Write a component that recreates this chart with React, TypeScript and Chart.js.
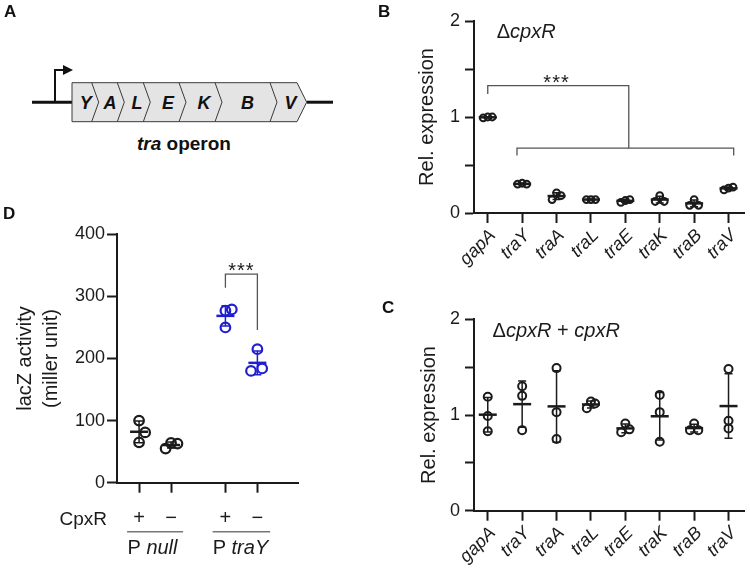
import React, { useEffect, useRef } from 'react';
import { Chart, registerables } from 'chart.js';

Chart.register(...registerables);

const FONT = "'Liberation Sans', Arial, Helvetica, sans-serif";
const INK = '#1b1b1b';
const BLUE = '#1f1fd0';
const GREY = '#555555';

// ---------- Panels B and C ----------
const GENES = ['gapA', 'traY', 'traA', 'traL', 'traE', 'traK', 'traB', 'traV'];
const REL_TICKS = [0, 0.5, 1, 1.5, 2];

const B_VALUES = [
  [0.99, 1.0, 1.0],
  [0.30, 0.31, 0.30],
  [0.14, 0.21, 0.18],
  [0.14, 0.14, 0.14],
  [0.11, 0.13, 0.14],
  [0.12, 0.18, 0.12],
  [0.08, 0.14, 0.08],
  [0.24, 0.26, 0.27],
];
const B_SWARM = GENES.map(() => [-0.13, 0, 0.13]);

const C_VALUES = [
  [1.19, 0.99, 0.83],
  [1.30, 1.20, 0.84],
  [1.49, 1.03, 0.75],
  [1.07, 1.14, 1.12],
  [0.82, 0.91, 0.85],
  [1.21, 1.03, 0.72],
  [0.84, 0.91, 0.84],
  [1.48, 0.94, 0.86],
];
const C_SWARM = [
  [0, 0, 0],
  [0, 0, 0],
  [0, 0, 0],
  [-0.12, 0, 0.12],
  [-0.12, 0, 0.12],
  [0, 0, 0],
  [-0.12, 0, 0.12],
  [0, 0, 0],
];

// significance brackets of panel B (data units)
const B_BRACKET_UPPER = [
  { x: 0, y: 1.24 },
  { x: 0, y: 1.326 },
  { x: 4.1, y: 1.326 },
  { x: 4.1, y: 0.675 },
];
const B_BRACKET_LOWER = [
  { x: 0.85, y: 0.6 },
  { x: 0.85, y: 0.675 },
  { x: 7.15, y: 0.675 },
  { x: 7.15, y: 0.6 },
];

// ---------- Panel D ----------
const D_CPXR = ['+', '\u2212', '+', '\u2212'];
const D_PROMOTERS = ['null', 'traY'];
const D_VALUES = [
  [100, 81, 65],
  [55, 64, 63],
  [277, 279, 250],
  [215, 180, 184],
];
const D_SWARM = [
  [0, 0.19, 0],
  [-0.17, 0, 0.2],
  [0, 0.2, 0],
  [0, -0.2, 0.15],
];
const D_TICKS = [0, 100, 200, 300, 400];
const D_GROUP_GAP = 0.7;
const D_POS = D_CPXR.map((_, i) => i + (i >= 2 ? D_GROUP_GAP : 0));
const D_COLORS = [INK, INK, BLUE, BLUE];
const D_BRACKET = [
  { x: D_POS[2], y: 314 },
  { x: D_POS[2], y: 336 },
  { x: D_POS[3], y: 336 },
  { x: D_POS[3], y: 246 },
];

// ---------- helpers ----------
const mean = (a: number[]) => a.reduce((s, v) => s + v, 0) / a.length;
const sd = (a: number[]) => {
  const m = mean(a);
  return Math.sqrt(a.reduce((s, v) => s + (v - m) * (v - m), 0) / (a.length - 1));
};

type Run = { t: string; italic?: boolean; bold?: boolean };
type Note = {
  x: number;
  y?: number;
  below?: number;
  runs: Run[];
  size: number;
  align: 'left' | 'center' | 'right';
  color?: string;
  spacing?: number;
};
type RuleLine = { x1: number; x2: number; below: number; color: string; width: number };

function errorBarPlugin(groups: { x: number; values: number[]; color: string }[], meanHalf: number, capHalf: number) {
  return {
    id: 'meanSd',
    afterDatasetsDraw(chart: any) {
      const { ctx } = chart;
      const xs = chart.scales.x;
      const ys = chart.scales.y;
      ctx.save();
      ctx.lineCap = 'butt';
      for (const g of groups) {
        const m = mean(g.values);
        const s = sd(g.values);
        const px = xs.getPixelForValue(g.x);
        const pm = ys.getPixelForValue(m);
        const pt = ys.getPixelForValue(m + s);
        const pb = ys.getPixelForValue(m - s);
        ctx.strokeStyle = g.color;
        ctx.lineWidth = 1.5;
        ctx.beginPath();
        ctx.moveTo(px, pt);
        ctx.lineTo(px, pb);
        ctx.moveTo(px - capHalf, pt);
        ctx.lineTo(px + capHalf, pt);
        ctx.moveTo(px - capHalf, pb);
        ctx.lineTo(px + capHalf, pb);
        ctx.stroke();
        ctx.lineWidth = 2.5;
        ctx.beginPath();
        ctx.moveTo(px - meanHalf, pm);
        ctx.lineTo(px + meanHalf, pm);
        ctx.stroke();
      }
      ctx.restore();
    },
  };
}

function notesPlugin(notes: Note[], rules: RuleLine[] = []) {
  return {
    id: 'notes',
    afterDraw(chart: any) {
      const { ctx, chartArea } = chart;
      const xs = chart.scales.x;
      const ys = chart.scales.y;
      ctx.save();
      for (const n of notes) {
        const px = xs.getPixelForValue(n.x);
        const py = n.y !== undefined ? ys.getPixelForValue(n.y) : chartArea.bottom + (n.below ?? 0);
        const fontFor = (r: Run) => `${r.italic ? 'italic ' : ''}${r.bold ? 'bold ' : ''}${n.size}px ${FONT}`;
        ctx.letterSpacing = `${n.spacing ?? 0}px`;
        let total = 0;
        const widths = n.runs.map((r) => {
          ctx.font = fontFor(r);
          const w = ctx.measureText(r.t).width;
          total += w;
          return w;
        });
        let cx = n.align === 'center' ? px - total / 2 : n.align === 'right' ? px - total : px;
        ctx.textAlign = 'left';
        ctx.textBaseline = 'alphabetic';
        ctx.fillStyle = n.color ?? INK;
        n.runs.forEach((r, i) => {
          ctx.font = fontFor(r);
          ctx.fillText(r.t, cx, py);
          cx += widths[i];
        });
      }
      ctx.letterSpacing = '0px';
      for (const r of rules) {
        const y = chartArea.bottom + r.below;
        ctx.strokeStyle = r.color;
        ctx.lineWidth = r.width;
        ctx.beginPath();
        ctx.moveTo(xs.getPixelForValue(r.x1), y);
        ctx.lineTo(xs.getPixelForValue(r.x2), y);
        ctx.stroke();
      }
      ctx.restore();
    },
  };
}

const axisBorder = { display: true, color: INK, width: 2 };

function bracketDataset(points: { x: number; y: number }[]) {
  return {
    type: 'scatter',
    data: points,
    showLine: true,
    borderColor: GREY,
    borderWidth: 1.3,
    pointRadius: 0,
    fill: false,
    clip: false,
    order: 2,
  };
}

function relConfig(
  values: number[][],
  swarm: number[][],
  o: { padTop: number; xAxisH: number; titlePad: number; radius: number; brackets: { x: number; y: number }[][]; notes: Note[] }
): any {
  const points = values.flatMap((vals, gi) => vals.map((v, k) => ({ x: gi + swarm[gi][k], y: v })));
  return {
    type: 'scatter',
    data: {
      datasets: [
        {
          type: 'scatter',
          data: points,
          pointRadius: o.radius,
          pointBorderWidth: 2,
          pointBorderColor: INK,
          pointBackgroundColor: 'rgba(0,0,0,0)',
          showLine: false,
          clip: false,
          order: 1,
        },
        ...o.brackets.map(bracketDataset),
      ],
    },
    options: {
      responsive: false,
      animation: false,
      events: [],
      layout: { padding: { top: o.padTop, right: 2, left: 0, bottom: 0 } },
      plugins: { legend: { display: false }, tooltip: { enabled: false } },
      scales: {
        x: {
          type: 'linear',
          min: -0.4,
          max: 7.45,
          afterBuildTicks: (s: any) => {
            s.ticks = GENES.map((_, i) => ({ value: i }));
          },
          afterFit: (s: any) => {
            s.height = o.xAxisH;
          },
          ticks: {
            callback: (v: number) => GENES[v] ?? '',
            autoSkip: false,
            maxRotation: 45,
            minRotation: 45,
            padding: 2,
            labelOffset: 5,
            color: INK,
            font: { family: FONT, size: 18, style: 'italic' },
          },
          grid: { drawOnChartArea: false, drawTicks: true, tickLength: 10, tickWidth: 2, tickColor: INK },
          border: axisBorder,
        },
        y: {
          type: 'linear',
          min: 0,
          max: 2,
          afterBuildTicks: (s: any) => {
            s.ticks = REL_TICKS.map((v) => ({ value: v }));
          },
          afterFit: (s: any) => {
            s.width = 99;
          },
          ticks: {
            callback: (v: number) => (Number.isInteger(v) ? String(v) : ''),
            padding: 5,
            color: INK,
            font: { family: FONT, size: 18 },
          },
          grid: { drawOnChartArea: false, drawTicks: true, tickLength: 9, tickWidth: 2, tickColor: INK },
          border: axisBorder,
          title: {
            display: true,
            text: 'Rel. expression',
            color: INK,
            font: { family: FONT, size: 20 },
            padding: { top: o.titlePad, bottom: 0 },
          },
        },
      },
    },
    plugins: [
      errorBarPlugin(
        values.map((vals, gi) => ({ x: gi, values: vals, color: INK })),
        9,
        4
      ),
      notesPlugin(o.notes),
    ],
  };
}

function lacZConfig(): any {
  const points = D_VALUES.flatMap((vals, gi) => vals.map((v, k) => ({ x: D_POS[gi] + D_SWARM[gi][k], y: v })));
  const colors = D_VALUES.flatMap((vals, gi) => vals.map(() => D_COLORS[gi]));
  const notes: Note[] = [
    { x: -1.0, below: 42, runs: [{ t: 'CpxR' }], size: 19, align: 'right' },
    { x: (D_POS[0] + D_POS[1]) / 2 - 0.08, below: 71, runs: [{ t: 'P ' }, { t: D_PROMOTERS[0], italic: true }], size: 20, align: 'center' },
    { x: (D_POS[2] + D_POS[3]) / 2 - 0.03, below: 71, runs: [{ t: 'P ' }, { t: D_PROMOTERS[1], italic: true }], size: 20, align: 'center' },
    { x: (D_POS[2] + D_POS[3]) / 2, y: 332, runs: [{ t: '***' }], size: 20, align: 'center', spacing: 1 },
  ];
  const rules: RuleLine[] = [
    { x1: D_POS[0] - 0.375, x2: D_POS[1] + 0.375, below: 49, color: '#777', width: 1.5 },
    { x1: D_POS[2] - 0.4, x2: D_POS[3] + 0.4, below: 49, color: '#777', width: 1.5 },
  ];
  return {
    type: 'scatter',
    data: {
      datasets: [
        {
          type: 'scatter',
          data: points,
          pointRadius: 4.8,
          pointBorderWidth: 2.2,
          pointBorderColor: colors,
          pointBackgroundColor: 'rgba(0,0,0,0)',
          showLine: false,
          clip: false,
          order: 1,
        },
        bracketDataset(D_BRACKET),
      ],
    },
    options: {
      responsive: false,
      animation: false,
      events: [],
      layout: { padding: { top: 34.3, right: 77, left: 0, bottom: 0 } },
      plugins: { legend: { display: false }, tooltip: { enabled: false } },
      scales: {
        x: {
          type: 'linear',
          min: -0.69,
          max: 4.97,
          afterBuildTicks: (s: any) => {
            s.ticks = D_POS.map((v) => ({ value: v }));
          },
          afterFit: (s: any) => {
            s.height = 86.3;
          },
          ticks: {
            callback: (_v: number, i: number) => D_CPXR[i] ?? '',
            autoSkip: false,
            maxRotation: 0,
            minRotation: 0,
            padding: 14,
            color: INK,
            font: { family: FONT, size: 20 },
          },
          grid: { drawOnChartArea: false, drawTicks: true, tickLength: 10, tickWidth: 2, tickColor: INK },
          border: axisBorder,
        },
        y: {
          type: 'linear',
          min: 0,
          max: 400,
          afterBuildTicks: (s: any) => {
            s.ticks = D_TICKS.map((v) => ({ value: v }));
          },
          afterFit: (s: any) => {
            s.width = 117;
          },
          ticks: {
            padding: 2,
            color: INK,
            font: { family: FONT, size: 18 },
          },
          grid: { drawOnChartArea: false, drawTicks: true, tickLength: 10, tickWidth: 2, tickColor: INK },
          border: axisBorder,
          title: {
            display: true,
            text: ['lacZ activity', '(miller unit)'],
            color: INK,
            font: { family: FONT, size: 20, lineHeight: 1.28 },
            padding: { top: 13, bottom: 0 },
          },
        },
      },
    },
    plugins: [
      errorBarPlugin(
        D_VALUES.map((vals, gi) => ({ x: D_POS[gi], values: vals, color: D_COLORS[gi] })),
        9,
        4
      ),
      notesPlugin(notes, rules),
    ],
  };
}

// ---------- Panel A (schematic) ----------
const OPERON_GENES = ['Y', 'A', 'L', 'E', 'K', 'B', 'V'];

function OperonDiagram() {
  const top = 82.7;
  const bot = 121.7;
  const mid = 102.2;
  const left = 72;
  const tip = 306.7;
  const endTop = 297;
  const dividers = [91.7, 117.3, 143.3, 179, 215, 270];
  const letterX = [85.7, 110, 137, 168, 204, 247.5, 290.5];
  return (
    <svg width={375} height={200} style={{ position: 'absolute', left: 0, top: 0 }}>
      <line x1={32} y1={mid} x2={left} y2={mid} stroke="#111" strokeWidth={3} />
      <line x1={tip} y1={mid} x2={333} y2={mid} stroke="#111" strokeWidth={3} />
      <polyline points={`55,${mid} 55,70 64,70`} fill="none" stroke="#111" strokeWidth={2} />
      <polygon points="63,65 73,70 63,75" fill="#111" />
      <polygon
        points={`${left},${top} ${endTop},${top} ${tip},${mid} ${endTop},${bot} ${left},${bot}`}
        fill="#e4e4e4"
        stroke="#3a3a3a"
        strokeWidth={1}
      />
      {dividers.map((x) => (
        <polyline key={x} points={`${x},${top} ${x + 7},${mid} ${x},${bot}`} fill="none" stroke="#3a3a3a" strokeWidth={1} />
      ))}
      {OPERON_GENES.map((g, i) => (
        <text
          key={g}
          x={letterX[i]}
          y={109}
          textAnchor="middle"
          fontFamily={FONT}
          fontWeight="bold"
          fontStyle="italic"
          fontSize={18}
          fill="#111"
        >
          {g}
        </text>
      ))}
      <text x={184} y={150} textAnchor="middle" fontFamily={FONT} fontWeight="bold" fontSize={19} fill="#111">
        <tspan fontStyle="italic">tra</tspan> operon
      </text>
    </svg>
  );
}

const PANEL_LETTERS = [
  { t: 'A', x: 4, y: 17 },
  { t: 'B', x: 378, y: 17 },
  { t: 'C', x: 382, y: 313 },
  { t: 'D', x: 3, y: 219 },
];

export default function App() {
  const bRef = useRef<HTMLCanvasElement>(null);
  const cRef = useRef<HTMLCanvasElement>(null);
  const dRef = useRef<HTMLCanvasElement>(null);

  useEffect(() => {
    const charts = [
      new Chart(
        bRef.current as HTMLCanvasElement,
        relConfig(B_VALUES, B_SWARM, {
          padTop: 21,
          xAxisH: 72,
          titlePad: 40.5,
          radius: 3.4,
          brackets: [B_BRACKET_UPPER, B_BRACKET_LOWER],
          notes: [
            { x: 0.26, y: 1.82, runs: [{ t: '\u0394' }, { t: 'cpxR', italic: true }], size: 20, align: 'left' },
            { x: 2.0, y: 1.288, runs: [{ t: '***' }], size: 20, align: 'center', spacing: 1 },
          ],
        })
      ),
      new Chart(
        cRef.current as HTMLCanvasElement,
        relConfig(C_VALUES, C_SWARM, {
          padTop: 34.3,
          xAxisH: 58.3,
          titlePad: 42.5,
          radius: 4,
          brackets: [],
          notes: [
            {
              x: 0.14,
              y: 1.815,
              runs: [{ t: '\u0394' }, { t: 'cpxR', italic: true }, { t: ' + ' }, { t: 'cpxR', italic: true }],
              size: 20,
              align: 'left',
            },
          ],
        })
      ),
      new Chart(dRef.current as HTMLCanvasElement, lacZConfig()),
    ];
    return () => charts.forEach((c) => c.destroy());
  }, []);

  return (
    <div style={{ position: 'absolute', left: 0, top: 0, width: 750, height: 569, background: '#fff', overflow: 'hidden' }}>
      <OperonDiagram />
      <canvas ref={bRef} width={375} height={285} style={{ position: 'absolute', left: 375, top: 0 }} />
      <canvas ref={cRef} width={375} height={284} style={{ position: 'absolute', left: 375, top: 285 }} />
      <canvas ref={dRef} width={375} height={369} style={{ position: 'absolute', left: 0, top: 200 }} />
      <svg width={750} height={569} style={{ position: 'absolute', left: 0, top: 0, pointerEvents: 'none' }}>
        {PANEL_LETTERS.map((p) => (
          <text key={p.t} x={p.x} y={p.y} fontFamily={FONT} fontWeight="bold" fontSize={17} fill="#111">
            {p.t}
          </text>
        ))}
      </svg>
    </div>
  );
}
